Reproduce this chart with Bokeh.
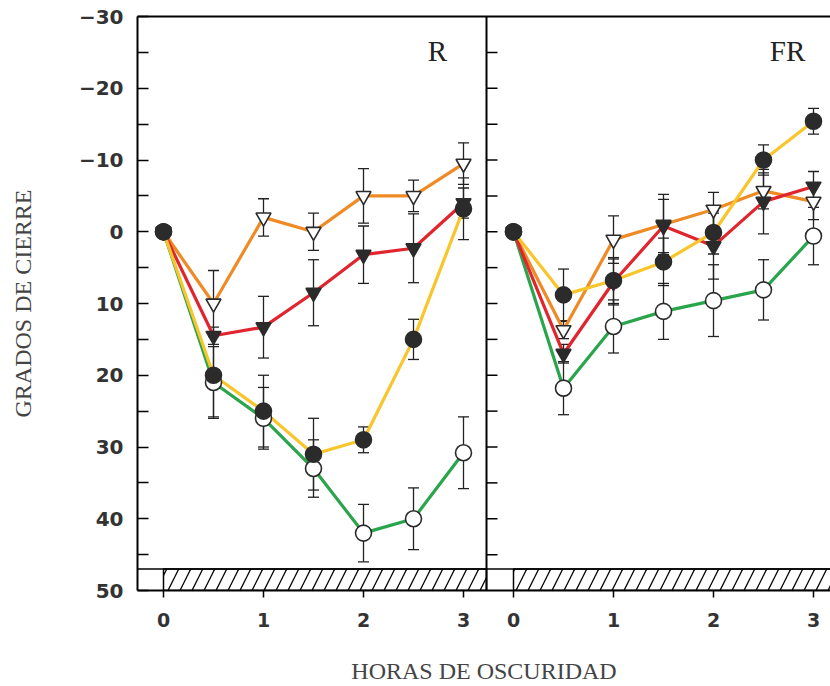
from bokeh.plotting import figure
from bokeh.models import Range1d, FixedTicker, Span, LinearAxis, ColumnDataSource
from bokeh.embed import file_html
from bokeh.resources import INLINE
from bokeh.core.properties import value

# ---------------- data ----------------
hours = [0, 0.5, 1, 1.5, 2, 2.5, 3]
panel_names = ["R", "FR"]
y_ticks = [-30, -20, -10, 0, 10, 20, 30, 40, 50]
y_tick_labels = ["\u221230", "\u221220", "\u221210", "0", "10", "20", "30", "40", "50"]
x_tick_labels = ["0", "1", "2", "3"]
axis_title_x = "HORAS DE OSCURIDAD"
axis_title_y = "GRADOS DE CIERRE"

# panel R
r_green = [0, 21, 26, 33, 42, 40, 30.8]
r_green_err = [0, 5, 4.3, 4, 4, 4.3, 5]
r_orange = [0, 10, -2, 0, -5, -5, -9.5]
r_orange_err = [0, 4.6, 2.6, 2.6, 3.8, 2.2, 2.9]
r_red = [0, 14.5, 13.3, 8.5, 3.2, 2.3, -4]
r_red_err = [0, 1.2, 4.3, 4.6, 4.0, 4.8, 2.1]
r_yellow = [0, 20, 25, 31, 29, 15, -3.2]
r_yellow_err = [0, 5.8, 5, 5, 1.8, 2.8, 4.3]

# panel FR
fr_green = [0, 21.8, 13.2, 11.1, 9.6, 8.1, 0.6]
fr_green_err = [0, 3.7, 3.7, 3.9, 5, 4.2, 4]
fr_orange = [0, 13.7, 1.1, -1, -3.1, -5.7, -4.2]
fr_orange_err = [0, 1.2, 3.3, 4.2, 2.4, 2.5, 2.5]
fr_red = [0, 17, 7, -0.8, 2, -4.2, -6.3]
fr_red_err = [0, 1.3, 3.2, 3.7, 4.6, 4.5, 2.1]
fr_yellow = [0, 8.8, 6.8, 4.2, 0.1, -10, -15.4]
fr_yellow_err = [0, 3.6, 3.2, 3.3, 3.0, 2.1, 1.8]

# ---------------- layout constants ----------------
X_MIN, X_MAX = -0.26, 6.67
PANEL_OFFSET = 3.5        # second panel origin in shared x coordinates
DIVIDER = 3.23            # boundary between the panels
BAR_TOP, BAR_BOTTOM = 47, 50

GREEN = "#2aa54c"
ORANGE = "#f08a24"
RED = "#e0252f"
YELLOW = "#f8c52a"
DARK = "#2b2b2b"

p = figure(width=830, height=686,
           x_range=Range1d(X_MIN, X_MAX), y_range=Range1d(50, -30),
           output_backend="svg", toolbar_location=None,
           min_border_left=137, min_border_right=0,
           min_border_top=16, min_border_bottom=96)
p.background_fill_color = "white"
p.border_fill_color = "white"
p.outline_line_color = None
p.xgrid.visible = False
p.ygrid.visible = False

# y axis
ya = p.yaxis[0]
ya.ticker = FixedTicker(ticks=y_ticks, minor_ticks=[t + 5 for t in y_ticks[:-1]])
ya.major_label_overrides = {t: l for t, l in zip(y_ticks, y_tick_labels)}
ya.major_tick_in = 11
ya.major_tick_out = 0
ya.minor_tick_in = 11
ya.minor_tick_out = 0
ya.major_tick_line_width = 1.5
ya.minor_tick_line_width = 1.5
ya.axis_line_width = 2
ya.major_label_text_font = "DejaVu Sans"
ya.major_label_text_font_style = "bold"
ya.major_label_text_font_size = "20px"
ya.major_label_text_color = "#333333"
ya.major_label_standoff = 14
ya.axis_label = axis_title_y
ya.axis_label_text_font = "Liberation Serif"
ya.axis_label_text_font_style = "normal"
ya.axis_label_text_font_size = "24px"
ya.axis_label_standoff = 40

# x axis
xa = p.xaxis[0]
x_tick_pos = [float(h) for h in hours[::2]] + [PANEL_OFFSET + h for h in hours[::2]]
xa.ticker = FixedTicker(ticks=x_tick_pos, minor_ticks=[])
xa.major_label_overrides = {t: x_tick_labels[i % 4] for i, t in enumerate(x_tick_pos)}
xa.major_tick_in = 0
xa.major_tick_out = 7
xa.major_tick_line_width = 1.5
xa.axis_line_width = 2
xa.major_label_text_font = "DejaVu Sans"
xa.major_label_text_font_style = "bold"
xa.major_label_text_font_size = "19px"
xa.major_label_text_color = "#333333"
xa.major_label_standoff = 15
xa.axis_label = axis_title_x
xa.axis_label_text_font = "Liberation Serif"
xa.axis_label_text_font_style = "normal"
xa.axis_label_text_font_size = "24px"
xa.axis_label_standoff = 28

# top frame line
top = LinearAxis(ticker=FixedTicker(ticks=[]), major_label_text_font_size="0px",
                 major_tick_line_color=None, minor_tick_line_color=None,
                 axis_line_width=2)
p.add_layout(top, "above")

# divider between panels with its inward ticks
p.add_layout(Span(location=DIVIDER, dimension="height", line_color="black", line_width=2))
inner_ticks = [t + d for t in y_ticks[:-1] for d in (0, 5)][1:]
p.segment(x0=[DIVIDER] * len(inner_ticks), y0=inner_ticks,
          x1=[DIVIDER + 0.11] * len(inner_ticks), y1=inner_ticks,
          line_color="black", line_width=1.5)

# hatched darkness bar
p.add_layout(Span(location=BAR_TOP, dimension="width", line_color="black", line_width=1.5))
p.quad(left=[hours[0], PANEL_OFFSET + hours[0]], right=[DIVIDER, X_MAX + 0.5],
       top=[BAR_TOP] * 2, bottom=[BAR_BOTTOM] * 2,
       fill_color="white", line_color="black", line_width=1.5,
       hatch_pattern="/", hatch_color="black", hatch_weight=1.3, hatch_scale=24)

panels = [
    (0.0, [(r_green, r_green_err, GREEN, "circle", "white"),
           (r_orange, r_orange_err, ORANGE, "inverted_triangle", "white"),
           (r_red, r_red_err, RED, "inverted_triangle", DARK),
           (r_yellow, r_yellow_err, YELLOW, "circle", DARK)]),
    (PANEL_OFFSET, [(fr_green, fr_green_err, GREEN, "circle", "white"),
                    (fr_orange, fr_orange_err, ORANGE, "inverted_triangle", "white"),
                    (fr_red, fr_red_err, RED, "inverted_triangle", DARK),
                    (fr_yellow, fr_yellow_err, YELLOW, "circle", DARK)]),
]

# error bars first
for off, series in panels:
    for vals, errs, col, mk, fill in series:
        xs = [off + h for h, e in zip(hours, errs) if e > 0]
        ys = [v for v, e in zip(vals, errs) if e > 0]
        es = [e for e in errs if e > 0]
        lo = [v - e for v, e in zip(ys, es)]
        hi = [v + e for v, e in zip(ys, es)]
        p.segment(x0=xs, y0=lo, x1=xs, y1=hi, line_color="#222222", line_width=1.3)
        p.scatter(x=xs + xs, y=lo + hi, marker="dash", size=11,
                  line_color="#222222", line_width=1.3)

# coloured lines
for off, series in panels:
    for vals, errs, col, mk, fill in series:
        p.line(x=[off + h for h in hours], y=vals, line_color=col, line_width=3.2)

# markers
for off, series in panels:
    for vals, errs, col, mk, fill in series:
        sz = 16 if mk == "circle" else 15
        p.scatter(x=[off + h for h in hours], y=vals, marker=mk, size=sz,
                  fill_color=fill, line_color=DARK, line_width=1.6)

# panel names
name_src = ColumnDataSource(dict(x=[off + 2.74 for off, _ in panels], y=[-25.2, -25.2],
                                 t=panel_names))
p.text(x="x", y="y", text="t", source=name_src, text_align="center",
       text_baseline="alphabetic", text_font=value("Liberation Serif"),
       text_font_size="29px", text_color="#222222")

open("out.html", "w").write(file_html(p, INLINE))
